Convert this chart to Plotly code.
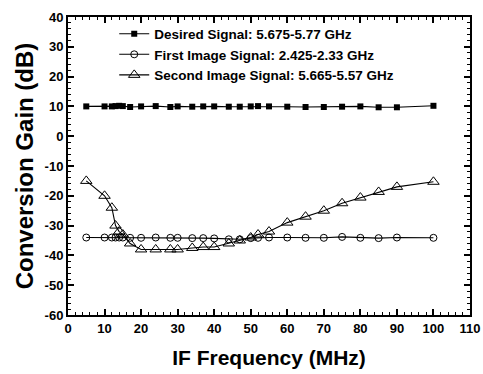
import plotly.graph_objects as go

freq = [5, 10, 12, 13, 14, 15, 17, 20, 24, 28, 30, 34, 37, 40, 44, 47, 50, 52, 55, 60, 65, 70, 75, 80, 85, 90, 100]
desired = [10, 10, 10, 10.1, 10.2, 10.1, 9.8, 10, 10.1, 9.8, 10, 9.9, 10, 10, 9.9, 9.9, 10, 10.1, 10, 9.9, 9.8, 9.8, 9.9, 10, 9.7, 9.7, 10.2]
first_img = [-34, -34, -34, -34, -34, -34, -34.1, -34.1, -34, -34.1, -34.1, -34.2, -34.2, -34.3, -34.6, -34.6, -34.2, -34.1, -34, -34, -34.1, -34.1, -33.8, -34.1, -34.2, -34, -34.1]
second_img = [-15, -20, -24, -30, -32, -33, -36, -38, -38, -38, -38, -37.5, -37.2, -37.2, -36, -35, -34, -33, -32, -29, -27, -25, -22.5, -20.6, -18.7, -17, -15.3]

names = ["Desired Signal: 5.675-5.77 GHz", "First Image Signal: 2.425-2.33 GHz", "Second Image Signal: 5.665-5.57 GHz"]

x_ticks = list(range(0, 111, 10))
y_ticks = list(range(-60, 41, 10))

fig = go.Figure()
fig.add_trace(go.Scatter(x=freq, y=desired, name=names[0], mode="lines+markers",
                         line=dict(color="black", width=1.1),
                         marker=dict(symbol="square", size=6, color="black")))
fig.add_trace(go.Scatter(x=freq, y=first_img, name=names[1], mode="lines+markers",
                         line=dict(color="black", width=1.1),
                         marker=dict(symbol="circle-open", size=7, color="black", line=dict(width=1))))
fig.add_trace(go.Scatter(x=freq, y=second_img, name=names[2], mode="lines+markers",
                         line=dict(color="black", width=1.1),
                         marker=dict(symbol="triangle-up-open", size=10, color="black", line=dict(width=1))))

axis_common = dict(showgrid=False, zeroline=False, showline=True, linecolor="black", linewidth=2,
                   mirror="allticks", ticks="inside", ticklen=6, tickwidth=2, tickcolor="black",
                   automargin=False,
                   tickfont=dict(family="Liberation Sans", size=13, color="black", weight="bold"),
                   minor=dict(ticks="inside", ticklen=3, tickwidth=1.2, tickcolor="black", dtick=2))

fig.update_xaxes(range=[0, 110], tickvals=x_ticks, ticktext=[str(v) for v in x_ticks],
                 title=dict(text="<b>IF Frequency (MHz)</b>", font=dict(family="Liberation Sans", size=21, color="black"), standoff=16),
                 **axis_common)
fig.update_yaxes(range=[-60, 40], tickvals=y_ticks, ticktext=[str(v) for v in y_ticks],
                 title=dict(text="<b>Conversion Gain (dB)</b>", font=dict(family="Liberation Sans", size=24, color="black"), standoff=4),
                 **axis_common)

fig.update_layout(width=483, height=374, margin=dict(l=68, r=13, t=17, b=59),
                  plot_bgcolor="white", paper_bgcolor="white",
                  legend=dict(x=0.115, y=0.995, xanchor="left", yanchor="top", bgcolor="rgba(0,0,0,0)",
                              font=dict(family="Liberation Sans", size=13.5, color="black", weight="bold"),
                              tracegroupgap=0, itemwidth=30))

fig.write_html("out.html", config={"displayModeBar": False},
               post_script="document.body.style.margin='0px';document.body.style.overflow='hidden';")
